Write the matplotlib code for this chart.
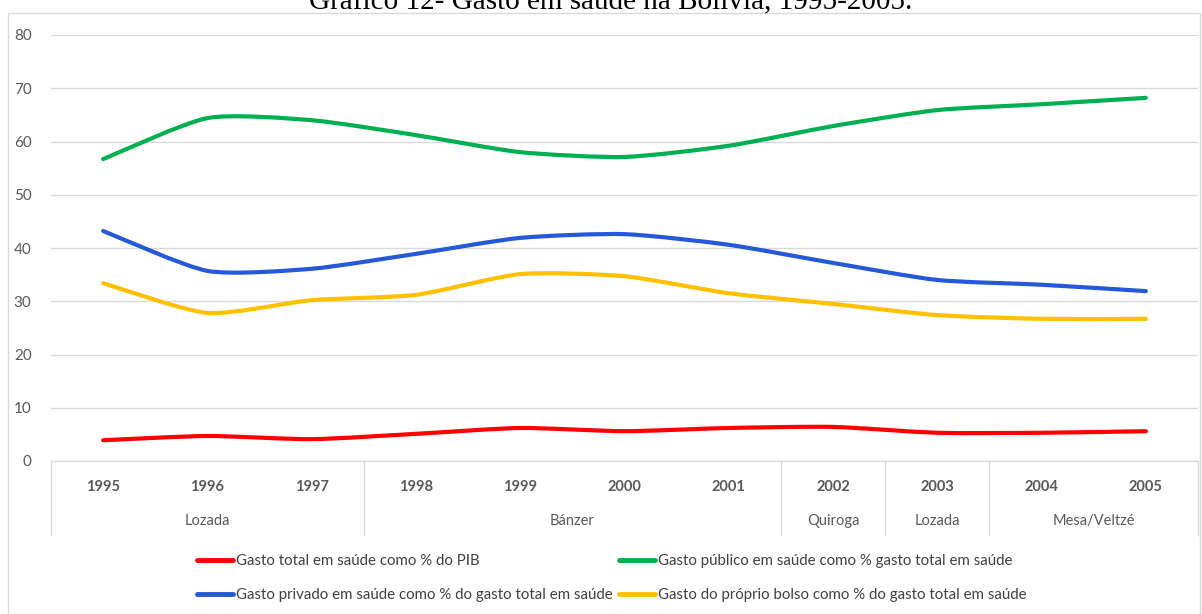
import matplotlib.pyplot as plt
import numpy as np
from matplotlib.path import Path
from matplotlib.patches import PathPatch, Rectangle
from matplotlib.lines import Line2D
import matplotlib.transforms as mtransforms

plt.rcParams['font.family'] = ['Lato', 'DejaVu Sans']

anos = ['1995', '1996', '1997', '1998', '1999', '2000', '2001', '2002', '2003', '2004', '2005']
governos = ['Lozada', 'Bánzer', 'Quiroga', 'Lozada', 'Mesa/Veltzé']
anos_por_governo = [3, 4, 1, 1, 2]

gasto_pib = [3.9, 4.7, 4.1, 5.1, 6.2, 5.6, 6.2, 6.4, 5.3, 5.3, 5.6]
gasto_publico = [56.7, 64.4, 64.0, 61.2, 58.0, 57.1, 59.2, 62.9, 65.9, 67.0, 68.2]
gasto_privado = [43.2, 35.7, 36.1, 38.9, 41.9, 42.6, 40.6, 37.2, 34.0, 33.1, 31.9]
gasto_bolso = [33.4, 27.8, 30.2, 31.2, 35.1, 34.7, 31.5, 29.5, 27.4, 26.7, 26.7]

series = [
    (gasto_pib, '#FF0000', 'Gasto total em saúde como % do PIB'),
    (gasto_publico, '#00B050', 'Gasto público em saúde como % gasto total em saúde'),
    (gasto_privado, '#2659D9', 'Gasto privado em saúde como % do gasto total em saúde'),
    (gasto_bolso, '#FFC000', 'Gasto do próprio bolso como % do gasto total em saúde'),
]


def curva_suave(x, y, k=9.0):
    # segmentos de Bezier (linha suavizada, como no Excel)
    p = np.column_stack([x, y]).astype(float)
    ext = np.vstack([p[0], p, p[-1]])
    verts = [p[0]]
    codes = [Path.MOVETO]
    for i in range(len(p) - 1):
        p0, p1, p2, p3 = ext[i], ext[i + 1], ext[i + 2], ext[i + 3]
        c1 = p1 + (p2 - p0) / k
        c2 = p2 - (p3 - p1) / k
        verts += [c1, c2, p2]
        codes += [Path.CURVE4] * 3
    return Path(verts, codes)


fig = plt.figure(figsize=(12.02, 6.14), dpi=100)
ax = fig.add_axes([51 / 1202, 1 - 461 / 614, 1147 / 1202, 426 / 614])

# moldura do gráfico
fig.patches.append(Rectangle((8 / 1202, 0), 1192 / 1202, 1 - 13 / 614, transform=fig.transFigure,
                             fill=False, edgecolor='#D9D9D9', linewidth=1))

fig.text(0.508, 0.998, 'Gráfico 12- Gasto em saúde na Bolívia, 1995-2005.', ha='center', va='center',
         fontsize=21, family='Liberation Serif', color='black')

x = np.arange(len(anos))
handles = []
for valores, cor, rotulo in series:
    patch = PathPatch(curva_suave(x, valores), fill=False, edgecolor=cor, linewidth=3,
                      capstyle='round', joinstyle='round', zorder=3)
    ax.add_patch(patch)
    handles.append(Line2D([], [], color=cor, linewidth=3.5, solid_capstyle='round'))

ax.set_xlim(-0.5, len(anos) - 0.5)
ax.set_ylim(0, 80)
ax.set_yticks(range(0, 81, 10))
ax.grid(axis='y', color='#D9D9D9', linewidth=1)
ax.set_axisbelow(True)
for s in ax.spines.values():
    s.set_visible(False)
ax.tick_params(axis='y', length=0, labelsize=11, labelcolor='#595959', pad=14)
ax.set_xticks([])

# eixo de categorias em dois níveis
trans = mtransforms.blended_transform_factory(ax.transData, ax.transAxes)
ax.plot([-0.5, len(anos) - 0.5], [0, 0], transform=trans, color='#D9D9D9', linewidth=1, clip_on=False)
for i, ano in enumerate(anos):
    ax.text(i, -0.061, ano, transform=trans, ha='center', va='center', fontsize=10.5,
            fontweight='bold', color='#595959')
inicio = 0
limites = [-0.5]
for gov, n in zip(governos, anos_por_governo):
    centro = inicio + (n - 1) / 2
    ax.text(centro, -0.141, gov, transform=trans, ha='center', va='center', fontsize=10.5,
            color='#595959')
    inicio += n
    limites.append(inicio - 0.5)
for b in limites:
    ax.plot([b, b], [0, -0.174], transform=trans, color='#D9D9D9', linewidth=1, clip_on=False)

ordem = [0, 2, 1, 3]
fig.legend([handles[i] for i in ordem], [series[i][2] for i in ordem], ncol=2,
           loc='center', bbox_to_anchor=(0.509, 1 - 578 / 614), frameon=False,
           fontsize=10.8, labelcolor='#404040', handlelength=2.4, handletextpad=0.2,
           labelspacing=1.3, columnspacing=0.45)

fig.savefig('out.png', dpi=100)
